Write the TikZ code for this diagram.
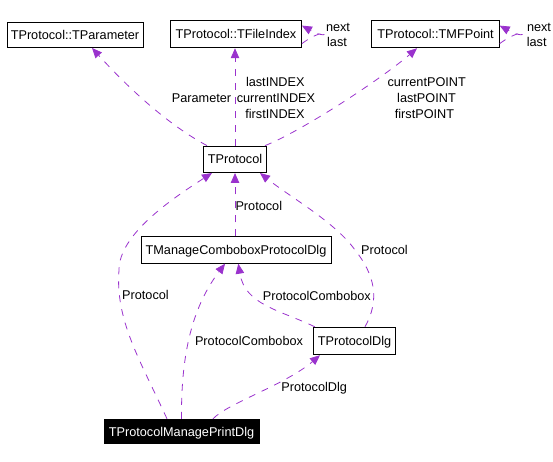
\documentclass[tikz,border=0pt]{standalone}
\usepackage{fontspec}
\setmainfont{Liberation Sans}
\usetikzlibrary{arrows.meta}
\definecolor{edgepurple}{RGB}{154,50,205}
\begin{document}
\begin{tikzpicture}[x=1pt,y=-1pt,
  every node/.style={font=\fontsize{12.7}{15}\selectfont, inner sep=0pt, text height=9pt, text depth=0pt},
  classbox/.style={draw=black, fill=white, line width=0.9pt},
  mainbox/.style={draw=black, fill=black, text=white, line width=0.9pt},
  rel/.style={draw=edgepurple, line width=0.8pt, dash pattern=on 7pt off 7pt,
    -{Triangle[length=10pt,width=8.5pt]}, edgepurple},
  lbl/.style={text=black}
]
\useasboundingbox (0,0) rectangle (553,462);

% class nodes
\node[classbox, minimum width=136pt, minimum height=25pt] (tparam) at (75,35) {TProtocol::TParameter};
\node[classbox, minimum width=131pt, minimum height=27pt] (tfile) at (236,34.3) {TProtocol::TFileIndex};
\node[classbox, minimum width=127.5pt, minimum height=27pt] (tmf) at (435.5,34.3) {TProtocol::TMFPoint};
\node[classbox, minimum width=63.5pt, minimum height=26.5pt] (tprot) at (235,159.3) {TProtocol};
\node[classbox, minimum width=190pt, minimum height=26.5pt] (tmanage) at (236,250) {TManageComboboxProtocolDlg};
\node[classbox, minimum width=82.5pt, minimum height=27.5pt] (tdlg) at (354.5,341) {TProtocolDlg};
\node[mainbox, minimum width=155pt, minimum height=24.5pt] (tprint) at (181.5,431.5) {TProtocolManagePrintDlg};

% self loops
\draw[rel] ([yshift=-9.3pt]tfile.east) .. controls (331,22) and (333,43) .. ([yshift=8.7pt]tfile.east);
\draw[rel] ([yshift=-9.3pt]tmf.east) .. controls (529,22) and (531,43) .. ([yshift=8.7pt]tmf.east);
\node[lbl] (lnext1) at (338,26.7) {next};
\node[lbl] (llast1) at (337,42.3) {last};
\node[lbl] (lnext2) at (539,26.7) {next};
\node[lbl] (llast2) at (536.7,42.3) {last};

% TProtocol -> members
\draw[rel] ([xshift=-28pt]tprot.north) .. controls (170,126) and (130,90) .. ([xshift=17pt]tparam.south);
\draw[rel] (tprot.north) -- (tprot.north |- tfile.south);
\draw[rel] ([xshift=30pt]tprot.north) .. controls (300,132) and (380,80) .. ([xshift=-18.5pt]tmf.south);
\node[lbl] (lparam) at (201.5,98) {Parameter};
\node[lbl] (lidx1) at (275.3,81.7) {lastINDEX};
\node[lbl] (lidx2) at (276,98) {currentINDEX};
\node[lbl] (lidx3) at (275,114) {firstINDEX};
\node[lbl] (lpt1) at (426.7,81.7) {currentPOINT};
\node[lbl] (lpt2) at (426.5,98) {lastPOINT};
\node[lbl] (lpt3) at (424.5,114) {firstPOINT};

% TManageComboboxProtocolDlg -> TProtocol
\draw[rel] (tmanage.north -| tprot.south) -- (tprot.south);
\node[lbl] (lprot1) at (258.8,206) {Protocol};

% TProtocolManagePrintDlg -> TProtocol
\draw[rel] ([xshift=-14.5pt]tprint.north) .. controls (140,360) and (115,320) .. (119,270)
  .. controls (119,235) and (170,200) .. ([xshift=-23pt]tprot.south);
\node[lbl] (lprot2) at (145.5,295) {Protocol};

% TProtocolDlg -> TProtocol
\draw[rel] ([xshift=10.5pt]tdlg.north) .. controls (380,300) and (375,275) .. (355,250)
  .. controls (335,222) and (290,197) .. ([xshift=25pt]tprot.south);
\node[lbl] (lprot3) at (384.5,250) {Protocol};

% TProtocolDlg -> TManageComboboxProtocolDlg
\draw[rel] ([xshift=2pt]tdlg.north west) .. controls (280,310) and (245,305) .. ([xshift=2.3pt]tmanage.south);
\node[lbl] (lcombo1) at (316.8,295.7) {ProtocolCombobox};

% TProtocolManagePrintDlg -> TManageComboboxProtocolDlg
\draw[rel] (tprint.north) .. controls (181,360) and (190,310) .. ([xshift=-11pt]tmanage.south);
\node[lbl] (lcombo2) at (249,341) {ProtocolCombobox};

% TProtocolManagePrintDlg -> TProtocolDlg
\draw[rel] ([xshift=31.5pt]tprint.north) .. controls (228,403) and (285,385) .. ([xshift=-34.5pt]tdlg.south);
\node[lbl] (ldlg) at (314.2,386.7) {ProtocolDlg};

\end{tikzpicture}
\end{document}
